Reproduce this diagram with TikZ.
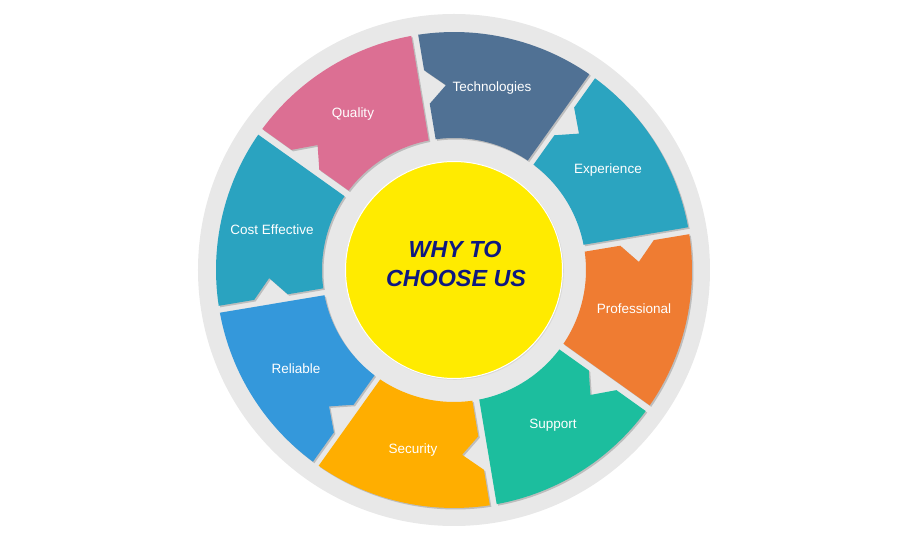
\documentclass[tikz,border=0pt]{standalone}
\usepackage{fontspec}
\setmainfont{Liberation Sans}
\definecolor{ringgray}{HTML}{E8E8E8}
\definecolor{shadowgray}{HTML}{BDBDBD}
\definecolor{hubyellow}{HTML}{FFEB00}
\definecolor{hubtext}{HTML}{0E1880}
\definecolor{cTech}{HTML}{507194}
\definecolor{cExp}{HTML}{2BA4C0}
\definecolor{cProf}{HTML}{EF7C32}
\definecolor{cSupp}{HTML}{1CBE9E}
\definecolor{cSec}{HTML}{FFAE00}
\definecolor{cRel}{HTML}{3498DB}
\definecolor{cCost}{HTML}{2AA3C0}
\definecolor{cQual}{HTML}{DC6F93}
\tikzset{
  seglabel/.style={text=white,font=\fontsize{13.5}{16}\selectfont,inner sep=0pt},
  hublabel/.style={text=hubtext,font=\fontsize{23.3}{28}\selectfont\bfseries\itshape,inner sep=0pt,anchor=base},
}
\def\segpath{(1.519:132pt) -- (0.843:238pt) arc[start angle=0.843, end angle=44.157, radius=238pt]
  -- (44.007:202.03pt) -- (38:185pt) -- (43.807:168.04pt) -- (43.481:132pt)
  arc[start angle=43.481, end angle=1.519, radius=132pt] -- cycle}
\newcommand\wheelseg[2]{%
  \begin{scope}[shift={(1.5pt,-1.5pt)}]\begin{scope}[rotate=#1]\fill[shadowgray] \segpath;\end{scope}\end{scope}
  \begin{scope}[rotate=#1]\fill[#2] \segpath;\end{scope}}
\begin{document}
\begin{tikzpicture}[x=1pt,y=1pt]
\useasboundingbox (-454,-270) rectangle (446,270);
\fill[ringgray] (0,0) circle[radius=256pt];
\wheelseg{54.5}{cTech}
\wheelseg{9.5}{cExp}
\wheelseg{-35.5}{cProf}
\wheelseg{-80.5}{cSupp}
\wheelseg{-125.5}{cSec}
\wheelseg{-170.5}{cRel}
\wheelseg{144.5}{cCost}
\wheelseg{99.5}{cQual}
\fill[shadowgray!60] (0.8,-0.8) circle[radius=109pt];
\draw[white,line width=1pt,fill=hubyellow] (0,0) circle[radius=108.5pt];
\node[hublabel] (why) at (1,12.5) {WHY TO};
\node[hublabel] (choose) at (2,-16.5) {CHOOSE US};
\node[seglabel] (tech) at (38,182) {Technologies};
\node[seglabel] (exp) at (154,100) {Experience};
\node[seglabel] (prof) at (180,-39) {Professional};
\node[seglabel] (supp) at (99,-155) {Support};
\node[seglabel] (sec) at (-41,-180) {Security};
\node[seglabel] (rel) at (-158,-99) {Reliable};
\node[seglabel] (cost) at (-182,40) {Cost Effective};
\node[seglabel] (qual) at (-101,156) {Quality};
\end{tikzpicture}
\end{document}
